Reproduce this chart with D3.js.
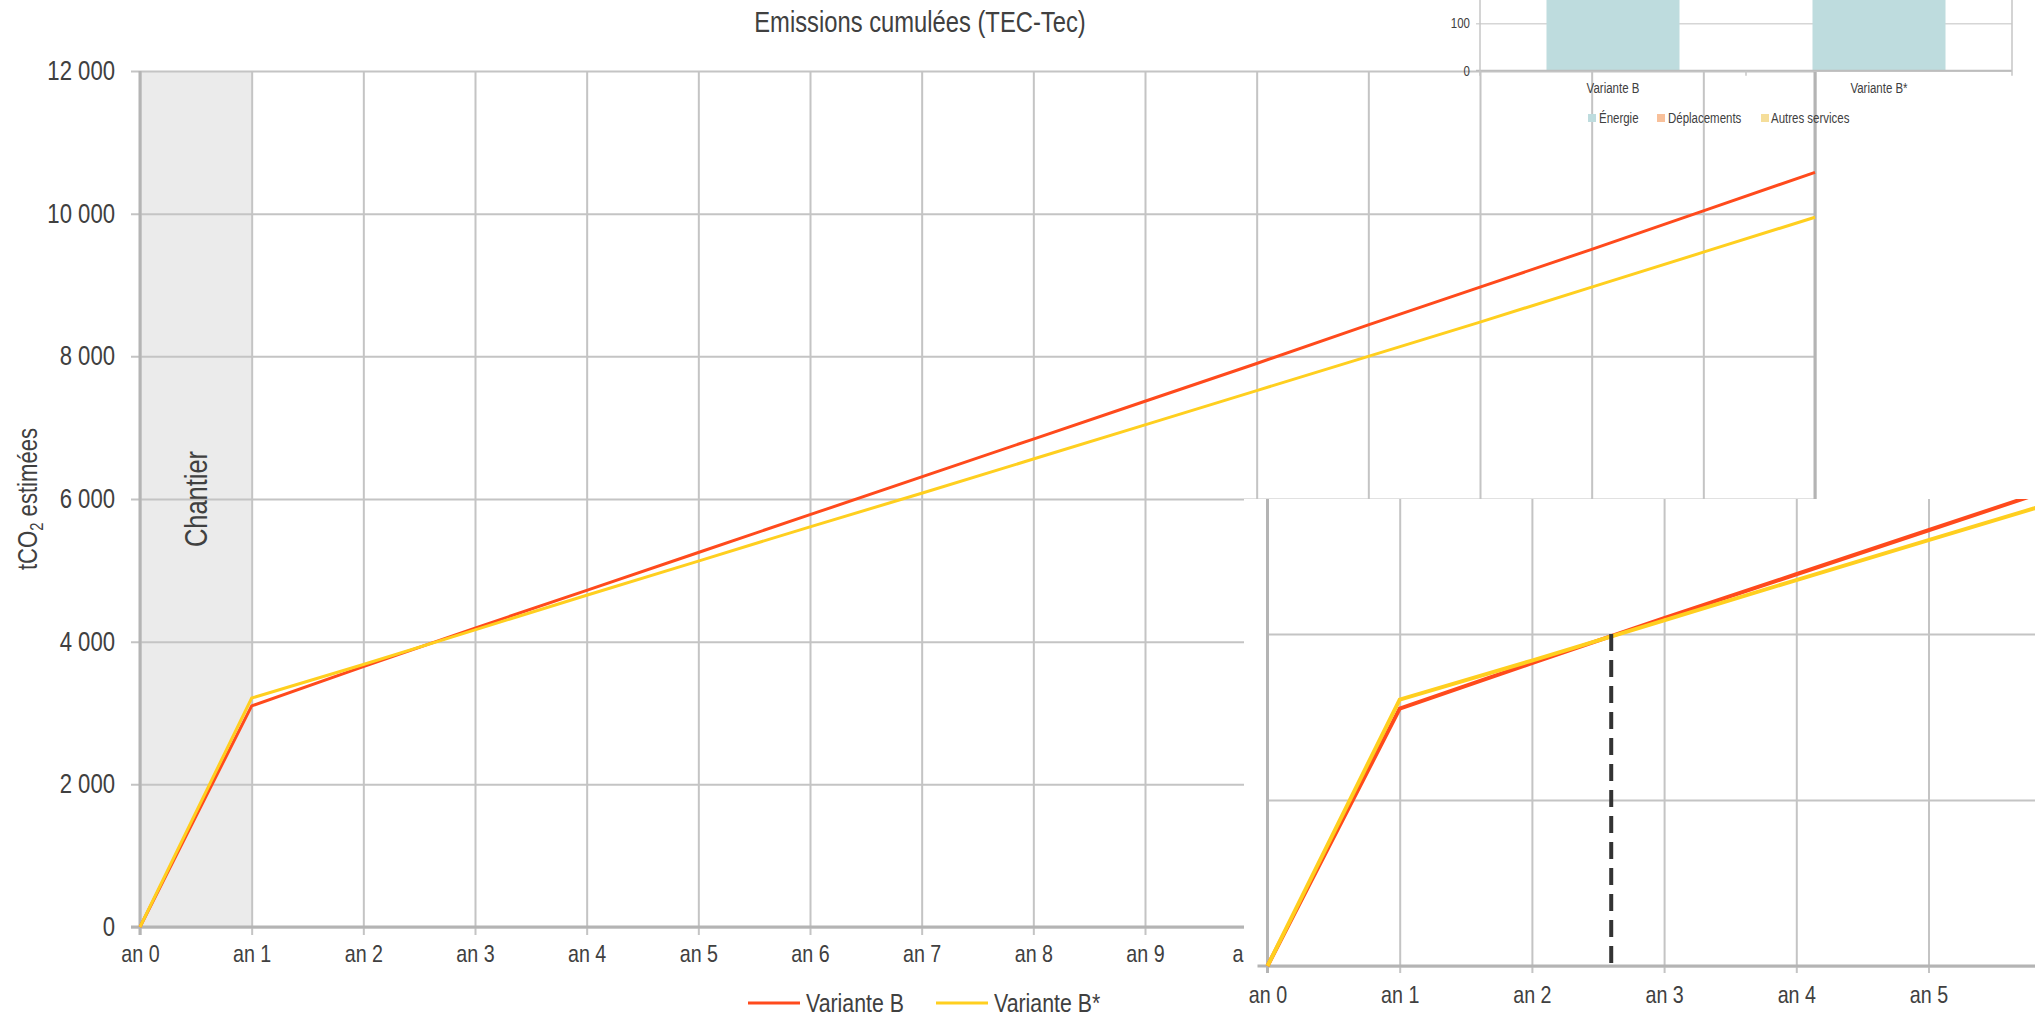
<!DOCTYPE html>
<html>
<head>
<meta charset="utf-8">
<script src="https://cdn.jsdelivr.net/npm/d3@7"></script>
<style>
  html, body { margin: 0; padding: 0; background: #fff; }
  svg { display: block; }
  /* police étroite : Liberation Sans compressée horizontalement */
  text {
    font-family: "Liberation Sans", Arial, sans-serif; fill: #404040;
    transform-box: fill-box; transform-origin: center; transform: scaleX(0.82);
  }
  text.s { transform-origin: left center; }
  text.e { transform-origin: right center; }
</style>
</head>
<body>
<svg id="chart" width="2035" height="1016"></svg>
<script>
// données
const years = ['an 0', 'an 1', 'an 2', 'an 3', 'an 4', 'an 5', 'an 6', 'an 7',
  'an 8', 'an 9', 'an 10', 'an 11', 'an 12', 'an 13', 'an 14', 'an 15'];
const varianteB = [0, 3100, 3650, 4190, 4720, 5250, 5780, 6310, 6840, 7370, 7900, 8440, 8970, 9500, 10040, 10580];
const varianteBStar = [0, 3210, 3680, 4165, 4650, 5130, 5610, 6080, 6560, 7040, 7520, 8000, 8480, 8970, 9460, 9950];
const yTicks = [0, 2000, 4000, 6000, 8000, 10000, 12000];
const seriesNames = ['Variante B', 'Variante B*'];
const seriesColors = ['#ff4a1c', '#ffcf1f'];

// zoom (encadré en bas à droite)
const insetYears = ['an 0', 'an 1', 'an 2', 'an 3', 'an 4', 'an 5'];
const insetYTicks = [0, 2000, 4000];
const crossPoint = { year: 2.6, value: 4000 };

// fragment du graphique en barres (en haut à droite)
const barCategories = ['Variante B', 'Variante B*'];
const barEnergie = [420, 400];
const barYTicks = [0, 100];
const barLegend = ['Énergie', 'Déplacements', 'Autres services'];
const barColors = ['#bedcde', '#f8c09a', '#f5de9a'];

const svg = d3.select('#chart');
const fmt = d => d3.format(',')(d).replace(/,/g, ' ');
const gridColor = '#c4c4c4';
const axisColor = '#b4b4b4';

// ---------- graphique principal ----------
const x = d3.scaleLinear().domain([0, 15]).range([140, 1815]);
const y = d3.scaleLinear().domain([0, 12000]).range([927, 71]);

const main = svg.append('g');

// zone chantier
main.append('rect')
  .attr('x', x(0)).attr('y', y(12000))
  .attr('width', x(1) - x(0)).attr('height', y(0) - y(12000))
  .attr('fill', '#ebebeb');

// grille horizontale
main.append('g')
  .attr('transform', `translate(${x(0)},0)`)
  .call(d3.axisLeft(y).tickValues(yTicks).tickSize(-(x(15) - x(0))).tickSizeOuter(0).tickFormat(fmt))
  .call(g => g.select('.domain').remove())
  .call(g => g.selectAll('line').attr('stroke', gridColor).attr('stroke-width', 2).attr('x2', x(15) - x(0)).attr('x1', -9))
  .call(g => g.selectAll('text').attr('class', 'e').attr('font-size', 27).attr('x', -25));

// grille verticale
main.append('g')
  .attr('transform', `translate(0,${y(0)})`)
  .call(d3.axisBottom(x).tickValues(d3.range(16)).tickSize(0).tickPadding(0).tickFormat(i => years[i]))
  .call(g => g.select('.domain').remove())
  .call(g => g.selectAll('line').attr('stroke', gridColor).attr('stroke-width', 2)
    .attr('y1', 8).attr('y2', y(12000) - y(0)))
  .call(g => g.selectAll('text').attr('font-size', 24).attr('y', 27).attr('dy', '0.35em'));

// bords de la zone chantier et du cadre
main.append('line').attr('x1', x(0)).attr('x2', x(0)).attr('y1', y(12000)).attr('y2', y(0) + 8)
  .attr('stroke', axisColor).attr('stroke-width', 3);
main.append('line').attr('x1', x(15)).attr('x2', x(15)).attr('y1', y(12000)).attr('y2', y(0) + 8)
  .attr('stroke', axisColor).attr('stroke-width', 3);
// axe zéro
main.append('line').attr('x1', x(0) - 9).attr('x2', x(15)).attr('y1', y(0)).attr('y2', y(0))
  .attr('stroke', axisColor).attr('stroke-width', 3);

main.append('g')
  .attr('transform', `translate(207,${(y(0) + y(12000)) / 2}) rotate(-90)`)
  .append('text')
  .attr('text-anchor', 'middle').attr('font-size', 31)
  .text('Chantier');

// titre de l'axe
const yt = main.append('g')
  .attr('transform', `translate(37,${(y(0) + y(12000)) / 2}) rotate(-90)`)
  .append('text')
  .attr('text-anchor', 'middle').attr('font-size', 27);
yt.append('tspan').text('tCO');
yt.append('tspan').attr('font-size', 18).attr('dy', 6).text('2');
yt.append('tspan').attr('dy', -6).text(' estimées');

main.append('text')
  .attr('x', 920).attr('y', 32).attr('text-anchor', 'middle').attr('font-size', 29)
  .text('Emissions cumulées (TEC-Tec)');

const line = d3.line().x((d, i) => x(i)).y(d => y(d));
[varianteB, varianteBStar].forEach((s, k) => {
  main.append('path').datum(s)
    .attr('d', line).attr('fill', 'none')
    .attr('stroke', seriesColors[k]).attr('stroke-width', 3);
});

// légende
const legend = main.append('g');
[[748, 806], [936, 994]].forEach(([lx, tx], k) => {
  legend.append('line').attr('x1', lx).attr('x2', lx + 52).attr('y1', 1003).attr('y2', 1003)
    .attr('stroke', seriesColors[k]).attr('stroke-width', 3);
  legend.append('text').attr('class', 's').attr('x', tx).attr('y', 1003).attr('dy', '0.35em')
    .attr('font-size', 26).text(seriesNames[k]);
});

// ---------- fragment graphique en barres ----------
const bx = d3.scaleBand().domain(barCategories).range([1480, 2012]).paddingInner(0.5).paddingOuter(0.25);
const by = d3.scaleLinear().domain([0, 100]).range([70.7, 23.3]);
const bar = svg.append('g');
bar.append('rect').attr('x', 1480).attr('y', 0).attr('width', 2012 - 1480).attr('height', by(0))
  .attr('fill', '#fff');
bar.append('g')
  .attr('transform', 'translate(1480,0)')
  .call(d3.axisLeft(by).tickValues(barYTicks).tickSize(-(2012 - 1480)).tickPadding(10).tickFormat(d3.format('d')))
  .call(g => g.select('.domain').remove())
  .call(g => g.selectAll('line').attr('stroke', '#d6d6d6').attr('stroke-width', 1.5).attr('x1', -4))
  .call(g => g.selectAll('text').attr('class', 'e').attr('font-size', 14));
const bclip = bar.append('clipPath').attr('id', 'barclip');
bclip.append('rect').attr('x', 1480).attr('y', 0).attr('width', 532).attr('height', by(0));
bar.append('g').attr('clip-path', 'url(#barclip)')
  .selectAll('rect').data(barCategories).join('rect')
  .attr('x', d => bx(d)).attr('width', bx.bandwidth())
  .attr('y', (d, i) => by(barEnergie[i])).attr('height', (d, i) => by(0) - by(barEnergie[i]))
  .attr('fill', barColors[0]);
bar.append('line').attr('x1', 1476).attr('x2', 2012).attr('y1', by(0)).attr('y2', by(0))
  .attr('stroke', '#bdbdbd').attr('stroke-width', 2);
[1480, 1746, 2012].forEach(tx => {
  bar.append('line').attr('x1', tx).attr('x2', tx).attr('y1', tx === 1746 ? by(0) : 0)
    .attr('y2', by(0) + 5).attr('stroke', '#c6c6c6').attr('stroke-width', 1.5);
});
bar.selectAll('.cat').data(barCategories).join('text')
  .attr('x', d => bx(d) + bx.bandwidth() / 2).attr('y', 88).attr('dy', '0.35em')
  .attr('text-anchor', 'middle').attr('font-size', 14).text(d => d);
[[1588, 1599], [1657, 1668], [1761, 1771]].forEach(([sx, tx], k) => {
  bar.append('rect').attr('x', sx).attr('y', 114).attr('width', 8).attr('height', 8).attr('fill', barColors[k]);
  bar.append('text').attr('class', 's').attr('x', tx).attr('y', 118).attr('dy', '0.35em').attr('font-size', 14).text(barLegend[k]);
});

// ---------- encadré zoomé ----------
const ix = d3.scaleLinear().domain([0, 5]).range([1267.5, 1928.5]);
const iy = d3.scaleLinear().domain([0, 4000]).range([966, 634]);
const inset = svg.append('g');
inset.append('rect').attr('x', 1244).attr('y', 499).attr('width', 2035 - 1244).attr('height', 1016 - 499)
  .attr('fill', '#fff');
const iclip = inset.append('clipPath').attr('id', 'insetclip');
iclip.append('rect').attr('x', 1244).attr('y', 499).attr('width', 2035 - 1244).attr('height', 1016 - 499);
const ig = inset.append('g').attr('clip-path', 'url(#insetclip)');

ig.append('g')
  .attr('transform', `translate(${ix(0)},0)`)
  .call(d3.axisLeft(iy).tickValues(insetYTicks).tickSize(-(2035 - ix(0))).tickFormat(''))
  .call(g => g.select('.domain').remove())
  .call(g => g.selectAll('line').attr('stroke', gridColor).attr('stroke-width', 2));
ig.append('g')
  .attr('transform', `translate(0,${iy(0)})`)
  .call(d3.axisBottom(ix).tickValues(d3.range(6)).tickSize(0).tickFormat(i => insetYears[i]))
  .call(g => g.select('.domain').remove())
  .call(g => g.selectAll('line').attr('stroke', gridColor).attr('stroke-width', 2)
    .attr('y1', 7).attr('y2', 499 - iy(0)))
  .call(g => g.selectAll('text').attr('font-size', 24).attr('y', 29).attr('dy', '0.35em'));
ig.append('line').attr('x1', ix(0) - 10).attr('x2', 2035).attr('y1', iy(0)).attr('y2', iy(0))
  .attr('stroke', axisColor).attr('stroke-width', 3);
ig.append('line').attr('x1', ix(0)).attr('x2', ix(0)).attr('y1', 499).attr('y2', iy(0) + 7)
  .attr('stroke', axisColor).attr('stroke-width', 3);

const iline = d3.line().x((d, i) => ix(i)).y(d => iy(d));
[varianteB, varianteBStar].forEach((s, k) => {
  ig.append('path').datum(s)
    .attr('d', iline).attr('fill', 'none')
    .attr('stroke', seriesColors[k]).attr('stroke-width', 4);
});
ig.append('line')
  .attr('x1', ix(crossPoint.year)).attr('x2', ix(crossPoint.year))
  .attr('y1', iy(crossPoint.value)).attr('y2', iy(0))
  .attr('stroke', '#333').attr('stroke-width', 4).attr('stroke-dasharray', '17 9');
</script>
</body>
</html>
